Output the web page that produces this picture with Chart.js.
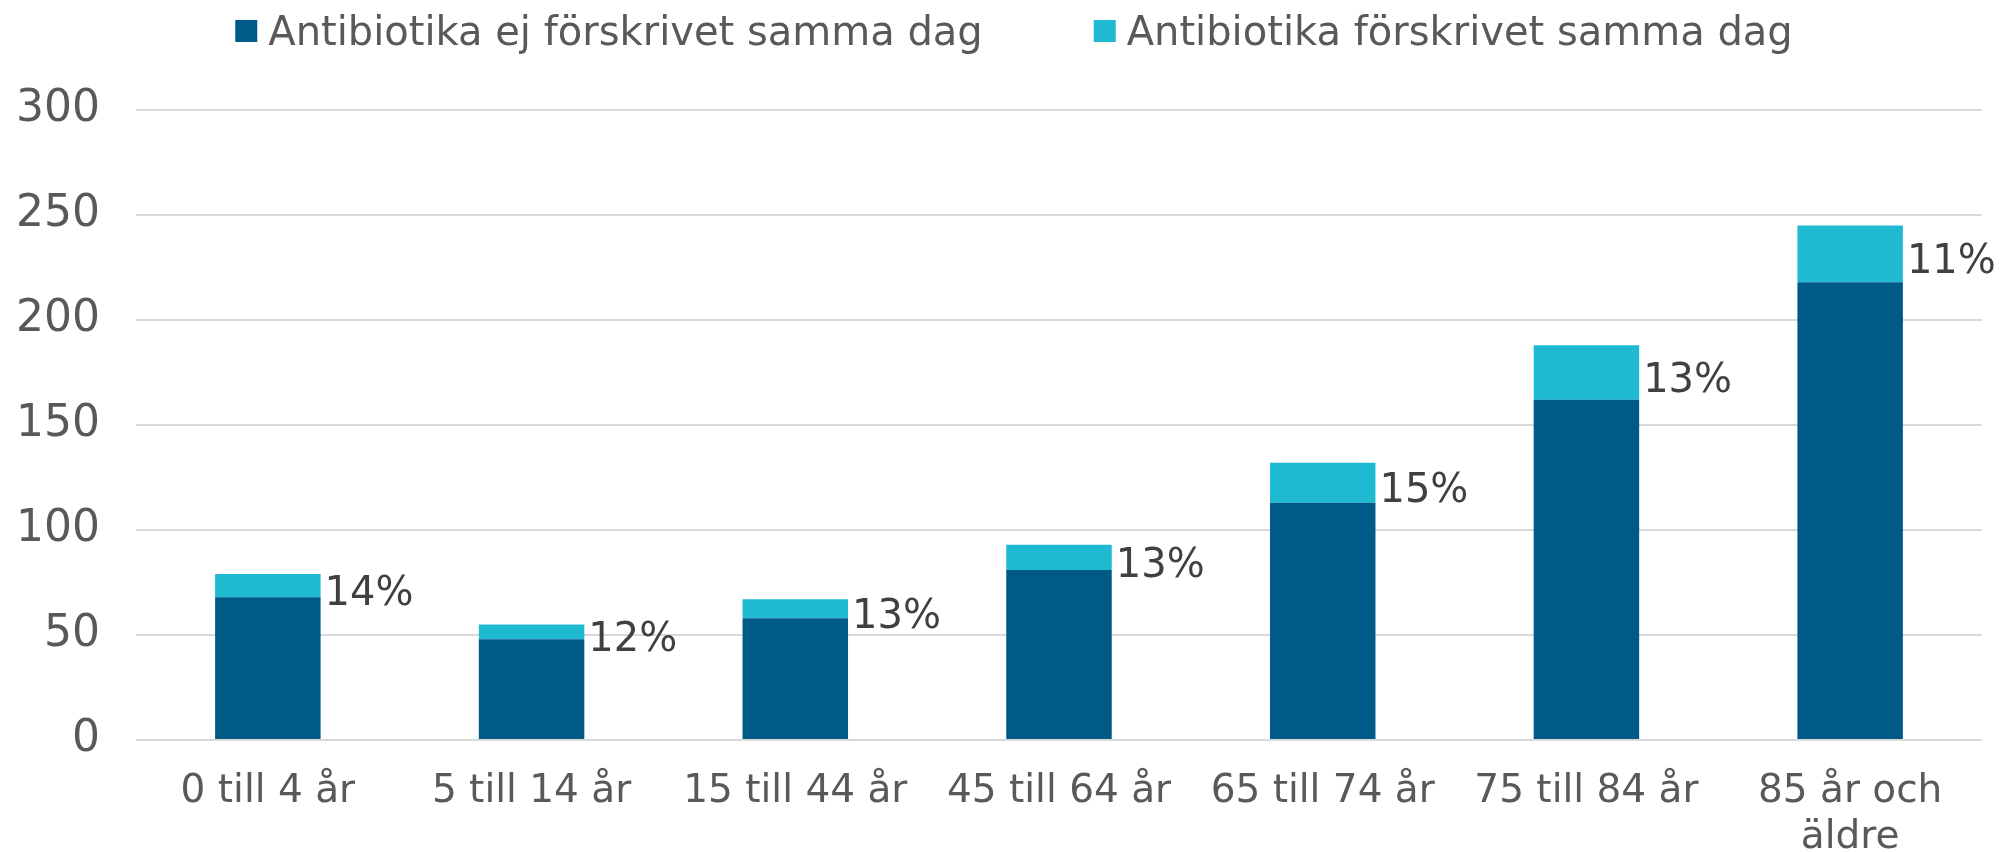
<!DOCTYPE html>
<html>
<head>
<meta charset="utf-8">
<script src="https://cdn.jsdelivr.net/npm/chart.js@4"></script>
<style>
  html, body { margin: 0; padding: 0; background: #ffffff; }
  #wrap { width: 2003px; height: 852px; position: relative; }
</style>
</head>
<body>
<div id="wrap"><canvas id="c" width="2003" height="852"></canvas></div>
<script>
const categories = ["0 till 4 år", "5 till 14 år", "15 till 44 år", "45 till 64 år", "65 till 74 år", "75 till 84 år", ["85 år och", "äldre"]];
const notPrescribed = [68, 48, 58, 81, 113, 162, 218];
const prescribed = [11, 7, 9, 12, 19, 26, 27];
const shareLabels = ["14%", "12%", "13%", "13%", "15%", "13%", "11%"];
const seriesNames = ["Antibiotika ej förskrivet samma dag", "Antibiotika förskrivet samma dag"];
const yTicks = [0, 50, 100, 150, 200, 250, 300];

const DARK = "#005A87";
const LIGHT = "#1FBAD1";
const FONT = "'DejaVu Sans', Verdana, sans-serif";

const labelPlugin = {
  id: "shareLabels",
  afterDatasetsDraw(chart) {
    const meta = chart.getDatasetMeta(1);
    const ctx = chart.ctx;
    ctx.save();
    ctx.font = "40px " + FONT;
    ctx.fillStyle = "#404040";
    ctx.textAlign = "left";
    ctx.textBaseline = "middle";
    meta.data.forEach((bar, i) => {
      const p = bar.getProps(["x", "y", "base", "width"], true);
      ctx.fillText(shareLabels[i], p.x + p.width / 2 + 4, (p.y + p.base) / 2 + 9);
    });
    ctx.restore();
  }
};

const legendPlugin = {
  id: "customLegend",
  afterDraw(chart) {
    const ctx = chart.ctx;
    ctx.save();
    ctx.font = "40px " + FONT;
    ctx.textBaseline = "alphabetic";
    ctx.textAlign = "left";
    const box = 22, gapText = 11, gapItem = 111;
    const colors = chart.data.datasets.map(d => d.backgroundColor);
    const widths = seriesNames.map(t => ctx.measureText(t).width);
    let total = 0;
    widths.forEach((w, i) => { total += box + gapText + w + (i < widths.length - 1 ? gapItem : 0); });
    let x = 1014 - total / 2;
    seriesNames.forEach((t, i) => {
      ctx.fillStyle = colors[i];
      ctx.fillRect(x, 20, box, box);
      ctx.fillStyle = "#595959";
      ctx.fillText(t, x + box + gapText, 45);
      x += box + gapText + widths[i] + gapItem;
    });
    ctx.restore();
  }
};

new Chart(document.getElementById("c"), {
  type: "bar",
  data: {
    labels: categories,
    datasets: [
      { label: seriesNames[0], data: notPrescribed, backgroundColor: DARK, borderWidth: 0, barPercentage: 0.4, categoryPercentage: 1.0 },
      { label: seriesNames[1], data: prescribed, backgroundColor: LIGHT, borderWidth: 0, barPercentage: 0.4, categoryPercentage: 1.0 }
    ]
  },
  options: {
    responsive: false,
    animation: false,
    layout: { padding: { top: 110, right: 21, bottom: 0, left: 0 } },
    plugins: {
      legend: { display: false },
      tooltip: { enabled: false }
    },
    scales: {
      x: {
        stacked: true,
        grid: { display: false, drawTicks: false },
        border: { display: false },
        ticks: {
          color: "#595959",
          font: { family: FONT, size: 39 },
          maxRotation: 0,
          autoSkip: false,
          padding: 28
        },
        afterFit(scale) { scale.height = 112; }
      },
      y: {
        stacked: true,
        min: 0,
        max: 300,
        afterBuildTicks(scale) { scale.ticks = yTicks.map(v => ({ value: v })); },
        grid: { color: "#D9D9D9", lineWidth: 2, drawTicks: false },
        border: { display: false },
        ticks: {
          color: "#595959",
          font: { family: FONT, size: 44 },
          padding: 36
        },
        afterFit(scale) { scale.width = 136; }
      }
    }
  },
  plugins: [labelPlugin, legendPlugin]
});
</script>
</body>
</html>
